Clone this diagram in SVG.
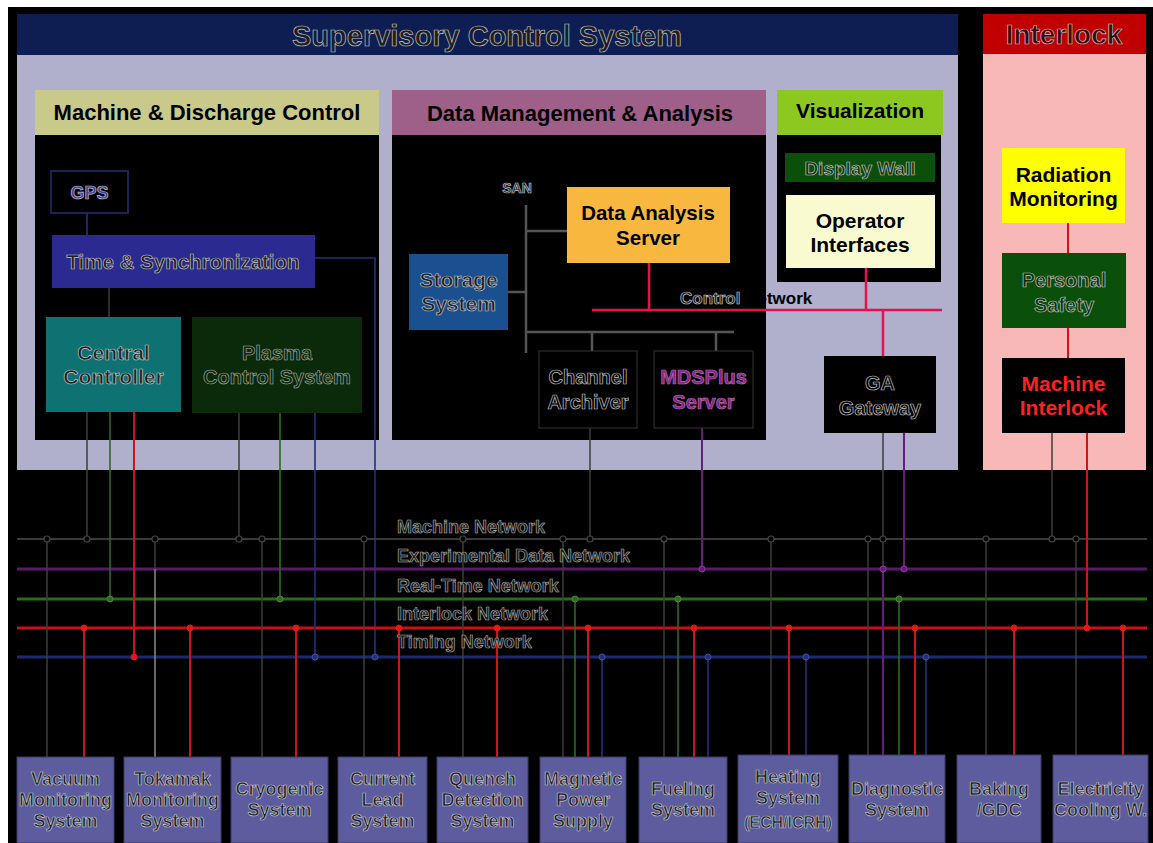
<svg xmlns="http://www.w3.org/2000/svg" width="1153" height="843" viewBox="0 0 1153 843">
<style>
text{font-family:"Liberation Sans",Arial,sans-serif;font-weight:bold;text-anchor:middle}
.emb{fill:#1e1e22;stroke:#c4c4c4;stroke-width:0.7}
.embd{fill:#0c2a0c;stroke:#b0b0b0;stroke-width:0.6}
.blk{fill:#000}
.netl{fill:#1a1a1a;stroke:#b4b4b4;stroke-width:0.6;text-anchor:start;font-size:18px}
.sub{fill:#5c5c9e;stroke:#3a3a66;stroke-width:1}
.bt{font-size:18px}
.g{stroke:#3c3c3c;stroke-width:1.5;fill:none}
.gl{stroke:#8a8a8a;stroke-width:1.5;fill:none}
.p{stroke:#6a1a7a;stroke-width:2;fill:none}
.gr{stroke:#2d6a1d;stroke-width:1.6;fill:none}
.r{stroke:#cc1515;stroke-width:2;fill:none}
.n{stroke:#22307e;stroke-width:1.6;fill:none}
.san{stroke:#555;stroke-width:2.5;fill:none}
.cn{stroke:#e8104a;stroke-width:2.5;fill:none}
.cg{fill:#000;stroke:#444;stroke-width:1.2}
.cp{fill:#6a1a7a;stroke:#8a3a9a;stroke-width:1}
.cgr{fill:#2d6a1d;stroke:#4a8a3a;stroke-width:1}
.cr{fill:#e01818;stroke:#e01818;stroke-width:1}
.cn2{fill:#22307e;stroke:#4050a0;stroke-width:1}
</style>
<rect x="0" y="0" width="1153" height="843" fill="#fff"/>
<rect x="8" y="7" width="1145" height="836" fill="#000"/>

<g id="supervisory">
<rect x="17" y="14" width="941" height="41" fill="#0e1e52"/>
<rect x="17" y="55" width="941" height="415" fill="#b0b0cc"/>
<text class="emb" x="487" y="46" font-size="29">Supervisory Control System</text>
</g>
<g id="interlock">
<rect x="983" y="14" width="163" height="40" fill="#c00000"/>
<rect x="983" y="54" width="163" height="416" fill="#f8b8b8"/>
<text class="emb" x="1064" y="44" font-size="28" style="fill:#3a0808">Interlock</text>
</g>

<g id="machine-discharge">
<rect x="35" y="90" width="344" height="45" fill="#c9c98a"/>
<rect x="35" y="135" width="344" height="305" fill="#000"/>
<text class="blk" x="207" y="120" font-size="22">Machine &amp; Discharge Control</text>
</g>
<g id="data-management">
<rect x="392" y="90" width="374" height="45" fill="#9e5f88"/>
<rect x="392" y="135" width="374" height="305" fill="#000"/>
<text class="blk" x="580" y="121" font-size="22">Data Management &amp; Analysis</text>
</g>
<g id="visualization">
<rect x="777" y="90" width="166" height="45" fill="#8cc820"/>
<rect x="777" y="135" width="164" height="147" fill="#000"/>
<text class="blk" x="860" y="118" font-size="21">Visualization</text>
</g>

<g id="connectors">
<line class="n" x1="87" y1="213" x2="87" y2="235"/>
<line class="g" x1="109" y1="288" x2="109" y2="317"/>
<polyline class="n" points="315,258 375,258 375,657"/>
<line class="san" x1="526" y1="205" x2="526" y2="353"/>
<line class="san" x1="526" y1="231" x2="567" y2="231"/>
<line class="san" x1="508" y1="292" x2="526" y2="292"/>
<line class="san" x1="526" y1="332" x2="734" y2="332"/>
<line class="san" x1="592" y1="332" x2="592" y2="351"/>
<line class="san" x1="716" y1="332" x2="716" y2="351"/>
<line class="cn" x1="592" y1="310" x2="942" y2="310"/>
<line class="cn" x1="649" y1="263" x2="649" y2="310"/>
<line class="cn" x1="866" y1="268" x2="866" y2="310"/>
<line class="cn" x1="883" y1="310" x2="883" y2="356"/>
<line class="r" x1="1068" y1="223" x2="1068" y2="253"/>
<line class="r" x1="1068" y1="328" x2="1068" y2="358"/>

<line stroke="#3a3a3a" stroke-width="2" x1="17" y1="539" x2="1147" y2="539"/>
<line stroke="#5a1a6a" stroke-width="3" x1="17" y1="569" x2="1147" y2="569"/>
<line stroke="#2a6a1a" stroke-width="3" x1="17" y1="599" x2="1147" y2="599"/>
<line stroke="#cc1010" stroke-width="3" x1="17" y1="628" x2="1147" y2="628"/>
<line stroke="#1a2a70" stroke-width="3" x1="17" y1="657" x2="1147" y2="657"/>

<line class="g" x1="47" y1="539" x2="47" y2="757"/>
<line class="g" x1="87" y1="412" x2="87" y2="539"/>
<line class="g" x1="155" y1="539" x2="155" y2="569"/>
<line class="gl" x1="155" y1="569" x2="155" y2="757"/>
<line class="g" x1="239" y1="413" x2="239" y2="539"/>
<line class="g" x1="262" y1="539" x2="262" y2="757"/>
<line class="g" x1="364" y1="539" x2="364" y2="757"/>
<line class="g" x1="463" y1="539" x2="463" y2="757"/>
<line class="g" x1="563" y1="539" x2="563" y2="757"/>
<line class="g" x1="590" y1="428" x2="590" y2="539"/>
<line class="g" x1="664" y1="539" x2="664" y2="757"/>
<line class="g" x1="771" y1="539" x2="771" y2="757"/>
<line class="g" x1="868" y1="539" x2="868" y2="757"/>
<line class="g" x1="883" y1="433" x2="883" y2="569"/>
<line class="g" x1="986" y1="539" x2="986" y2="757"/>
<line class="g" x1="1052" y1="433" x2="1052" y2="539"/>
<line class="g" x1="1076" y1="539" x2="1076" y2="757"/>
<line class="p" x1="702" y1="428" x2="702" y2="569"/>
<line class="p" x1="904" y1="433" x2="904" y2="569"/>
<line class="p" x1="883" y1="569" x2="883" y2="757"/>
<line class="gr" x1="110" y1="412" x2="110" y2="599"/>
<line class="gr" x1="280" y1="413" x2="280" y2="599"/>
<line class="gr" x1="575" y1="599" x2="575" y2="757"/>
<line class="gr" x1="678" y1="599" x2="678" y2="757"/>
<line class="gr" x1="899" y1="599" x2="899" y2="757"/>
<line class="r" x1="134" y1="412" x2="134" y2="657"/>
<line class="r" x1="84" y1="628" x2="84" y2="757"/>
<line class="r" x1="190" y1="628" x2="190" y2="757"/>
<line class="r" x1="296" y1="628" x2="296" y2="757"/>
<line class="r" x1="399" y1="628" x2="399" y2="757"/>
<line class="r" x1="497" y1="628" x2="497" y2="757"/>
<line class="r" x1="588" y1="628" x2="588" y2="757"/>
<line class="r" x1="694" y1="628" x2="694" y2="757"/>
<line class="r" x1="789" y1="628" x2="789" y2="757"/>
<line class="r" x1="915" y1="628" x2="915" y2="757"/>
<line class="r" x1="1014" y1="628" x2="1014" y2="757"/>
<line class="r" x1="1087" y1="433" x2="1087" y2="628"/>
<line class="r" x1="1123" y1="628" x2="1123" y2="757"/>
<line class="n" x1="315" y1="413" x2="315" y2="657"/>
<line class="n" x1="602" y1="657" x2="602" y2="757"/>
<line class="n" x1="708" y1="657" x2="708" y2="757"/>
<line class="n" x1="806" y1="657" x2="806" y2="757"/>
<line class="n" x1="926" y1="657" x2="926" y2="757"/>

<g class="cg">
<circle cx="47" cy="539" r="3"/><circle cx="87" cy="539" r="3"/><circle cx="155" cy="539" r="3"/>
<circle cx="239" cy="539" r="3"/><circle cx="262" cy="539" r="3"/><circle cx="364" cy="539" r="3"/>
<circle cx="463" cy="539" r="3"/><circle cx="563" cy="539" r="3"/><circle cx="590" cy="539" r="3"/>
<circle cx="664" cy="539" r="3"/><circle cx="771" cy="539" r="3"/><circle cx="868" cy="539" r="3"/>
<circle cx="883" cy="539" r="3"/><circle cx="986" cy="539" r="3"/><circle cx="1052" cy="539" r="3"/>
<circle cx="1076" cy="539" r="3"/>
</g>
<g class="cp"><circle cx="702" cy="569" r="3"/><circle cx="883" cy="569" r="3"/><circle cx="904" cy="569" r="3"/></g>
<g class="cgr"><circle cx="110" cy="599" r="3"/><circle cx="280" cy="599" r="3"/><circle cx="575" cy="599" r="3"/><circle cx="678" cy="599" r="3"/><circle cx="899" cy="599" r="3"/></g>
<g class="cr">
<circle cx="84" cy="628" r="3"/><circle cx="190" cy="628" r="3"/><circle cx="296" cy="628" r="3"/>
<circle cx="399" cy="628" r="3"/><circle cx="497" cy="628" r="3"/><circle cx="588" cy="628" r="3"/>
<circle cx="694" cy="628" r="3"/><circle cx="789" cy="628" r="3"/><circle cx="915" cy="628" r="3"/>
<circle cx="1014" cy="628" r="3"/><circle cx="1087" cy="628" r="3"/><circle cx="1123" cy="628" r="3"/>
<circle cx="134" cy="657" r="3"/>
</g>
<g class="cn2"><circle cx="315" cy="657" r="3"/><circle cx="375" cy="657" r="3"/><circle cx="602" cy="657" r="3"/><circle cx="708" cy="657" r="3"/><circle cx="806" cy="657" r="3"/><circle cx="926" cy="657" r="3"/></g>

<text class="netl" x="397" y="533">Machine Network</text>
<text class="netl" x="397" y="562">Experimental Data Network</text>
<text class="netl" x="397" y="592">Real-Time Network</text>
<text class="netl" x="397" y="620">Interlock Network</text>
<text class="netl" x="397" y="648">Timing Network</text>
<text x="680" y="304" font-size="17" style="text-anchor:start"><tspan class="emb">Control </tspan><tspan fill="#000">Network</tspan></text>
<text class="emb" x="517" y="193" font-size="14">SAN</text>
</g>

<g id="gps"><rect x="51" y="171" width="77" height="42" fill="#000" stroke="#22306e" stroke-width="1.5"/><text class="emb" x="89.5" y="199" font-size="18" style="fill:#3a3aa8">GPS</text></g>
<g id="time-sync"><rect x="52" y="235" width="263" height="53" fill="#2a2a90"/><text class="emb" x="183" y="269" font-size="20.5">Time &amp; Synchronization</text></g>
<g id="central-controller"><rect x="46" y="317" width="135" height="95" fill="#0f7272"/><text class="emb" x="113.5" y="360" font-size="21">Central</text><text class="emb" x="113.5" y="384" font-size="21">Controller</text></g>
<g id="plasma-control"><rect x="192" y="317" width="170" height="96" fill="#0a2a0a"/><text class="embd" x="277" y="360" font-size="20">Plasma</text><text class="embd" x="277" y="384" font-size="20">Control System</text></g>

<g id="data-analysis"><rect x="567" y="187" width="163" height="76" fill="#f8b840"/><text class="blk" x="648" y="220" font-size="20.5">Data Analysis</text><text class="blk" x="648" y="245" font-size="20.5">Server</text></g>
<g id="storage"><rect x="409" y="254" width="99" height="76" fill="#1a5090"/><text class="emb" x="458.5" y="287" font-size="21">Storage</text><text class="emb" x="458.5" y="311" font-size="21">System</text></g>
<g id="channel-archiver"><rect x="539" y="351" width="98" height="77" fill="#000" stroke="#333" stroke-width="1"/><text class="emb" x="588" y="384" font-size="20" style="fill:#000">Channel</text><text class="emb" x="588" y="409" font-size="20" style="fill:#000">Archiver</text></g>
<g id="mdsplus"><rect x="654" y="351" width="99" height="77" fill="#000" stroke="#333" stroke-width="1"/><text class="emb" x="703.5" y="384" font-size="20" style="fill:#8a208a;stroke:#b070b0">MDSPlus</text><text class="emb" x="703.5" y="409" font-size="20" style="fill:#8a208a;stroke:#b070b0">Server</text></g>

<g id="display-wall"><rect x="785" y="153" width="150" height="29" fill="#0a500a"/><text class="emb" x="860" y="175" font-size="19" style="fill:#0e2e0e">Display Wall</text></g>
<g id="operator-interfaces"><rect x="786" y="195" width="149" height="73" fill="#fafad0"/><text class="blk" x="860" y="228" font-size="21">Operator</text><text class="blk" x="860" y="252" font-size="21">Interfaces</text></g>
<g id="ga-gateway"><rect x="824" y="356" width="112" height="77" fill="#000"/><text class="emb" x="880" y="390" font-size="20" style="fill:#000">GA</text><text class="emb" x="880" y="415" font-size="20" style="fill:#000">Gateway</text></g>

<g id="radiation"><rect x="1002" y="148" width="123" height="75" fill="#ffff00"/><text class="blk" x="1063.5" y="182" font-size="21">Radiation</text><text class="blk" x="1063.5" y="206" font-size="21">Monitoring</text></g>
<g id="personal-safety"><rect x="1002" y="253" width="124" height="75" fill="#0a500a"/><text class="emb" x="1064" y="287" font-size="20" style="fill:#0e2e0e">Personal</text><text class="emb" x="1064" y="312" font-size="20" style="fill:#0e2e0e">Safety</text></g>
<g id="machine-interlock"><rect x="1002" y="358" width="123" height="75" fill="#000"/><text x="1063.5" y="391" font-size="21" fill="#ff2020">Machine</text><text x="1063.5" y="415" font-size="21" fill="#ff2020">Interlock</text></g>

<g id="vacuum"><rect class="sub" x="17" y="757" width="97" height="86"/><text class="emb bt" x="65.5" y="785">Vacuum</text><text class="emb bt" x="65.5" y="806">Monitoring</text><text class="emb bt" x="65.5" y="827">System</text></g>
<g id="tokamak"><rect class="sub" x="124" y="757" width="97" height="86"/><text class="emb bt" x="172.5" y="785">Tokamak</text><text class="emb bt" x="172.5" y="806">Monitoring</text><text class="emb bt" x="172.5" y="827">System</text></g>
<g id="cryogenic"><rect class="sub" x="231" y="757" width="97" height="86"/><text class="emb bt" x="279.5" y="795">Cryogenic</text><text class="emb bt" x="279.5" y="816">System</text></g>
<g id="current-lead"><rect class="sub" x="338" y="757" width="89" height="86"/><text class="emb bt" x="382.5" y="785">Current</text><text class="emb bt" x="382.5" y="806">Lead</text><text class="emb bt" x="382.5" y="827">System</text></g>
<g id="quench"><rect class="sub" x="437" y="757" width="91" height="86"/><text class="emb bt" x="482.5" y="785">Quench</text><text class="emb bt" x="482.5" y="806">Detection</text><text class="emb bt" x="482.5" y="827">System</text></g>
<g id="magnetic"><rect class="sub" x="540" y="757" width="86" height="86"/><text class="emb bt" x="583" y="785">Magnetic</text><text class="emb bt" x="583" y="806">Power</text><text class="emb bt" x="583" y="827">Supply</text></g>
<g id="fueling"><rect class="sub" x="639" y="757" width="88" height="86"/><text class="emb bt" x="683" y="795">Fueling</text><text class="emb bt" x="683" y="816">System</text></g>
<g id="heating"><rect class="sub" x="738" y="755" width="100" height="88"/><text class="emb bt" x="788" y="783">Heating</text><text class="emb bt" x="788" y="804">System</text><text class="emb" x="788" y="828" font-size="16">(ECH/ICRH)</text></g>
<g id="diagnostic"><rect class="sub" x="849" y="755" width="96" height="88"/><text class="emb bt" x="897" y="795">Diagnostic</text><text class="emb bt" x="897" y="816">System</text></g>
<g id="baking"><rect class="sub" x="957" y="755" width="84" height="88"/><text class="emb bt" x="999" y="795">Baking</text><text class="emb bt" x="999" y="816">/GDC</text></g>
<g id="electricity"><rect class="sub" x="1053" y="755" width="95" height="88"/><text class="emb bt" x="1100.5" y="795">Electricity</text><text class="emb bt" x="1100.5" y="816">Cooling W.</text></g>
</svg>
